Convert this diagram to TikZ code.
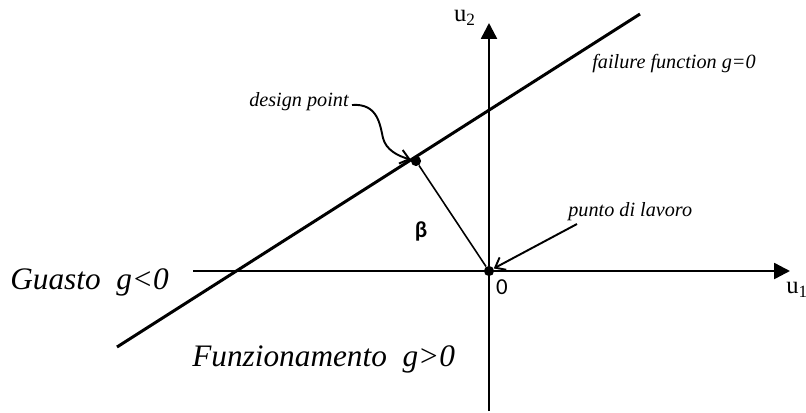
\documentclass[tikz,border=0pt]{standalone}
\usepackage{fontspec}
\setmainfont{Liberation Serif}
\newfontfamily\calibfont{Carlito}
\usetikzlibrary{arrows.meta}

\begin{document}
\begin{tikzpicture}[x=0.02cm,y=-0.02cm,
    axis/.style={line width=1.4pt,-{Triangle[length=9pt,width=9pt]}},
    pointer/.style={line width=1.1pt,-{Straight Barb[length=5pt,width=8pt]}},
    dot/.style={circle,fill,inner sep=0pt,minimum size=5.8pt},
    bigtxt/.style={font=\fontsize{17.8}{21}\selectfont\itshape,inner sep=0pt},
    smalltxt/.style={font=\fontsize{11.5}{14}\selectfont\itshape,inner sep=0pt}]
  \useasboundingbox (0,0) rectangle (806,413);
  % axes
  \coordinate (xstart) at (193,271);
  \coordinate (xend) at (790,271);
  \coordinate (ystart) at (489,411);
  \coordinate (yend) at (489,23);
  \draw[axis] (xstart)--(xend);
  \draw[axis] (ystart)--(yend);
  \node[font=\fontsize{14}{16}\selectfont,anchor=west,inner sep=0pt] (uone) at (786,290) {u\textsubscript{1}};
  \node[font=\fontsize{14}{16}\selectfont] (utwo) at (465,18) {u\textsubscript{2}};
  \node[font=\calibfont\fontsize{13}{15}\selectfont] (zero) at (502,287) {0};
  % limit state line
  \coordinate (gstart) at (117,347);
  \coordinate (gend) at (640,14);
  \draw[line width=1.7pt] (gstart)--(gend);
  \node[dot] (dp) at (416,161) {};
  \node[dot] (orig) at (489,271) {};
  \draw[line width=0.9pt] (dp)--(orig);
  \node[font=\calibfont\bfseries\fontsize{13}{15}\selectfont] (beta) at (421,231) {β};
  % labels
  \node[smalltxt,anchor=base east] (dptext) at (349,106) {design point};
  \coordinate (dpfrom) at (352,105);
  \draw[pointer] (dpfrom) .. controls (378,103) and (380,125) .. (383,138)
    .. controls (386,150) and (398,156) .. (dp);
  \node[smalltxt,anchor=base west] (pltext) at (568,216) {punto di lavoro};
  \coordinate (plfrom) at (577,224);
  \draw[pointer] (plfrom)--(orig);
  \node[smalltxt,anchor=base west] (gtext) at (592,68) {failure function g=0};
  \node[bigtxt,anchor=base west] (fail) at (10,289) {Guasto\ \ g<0};
  \node[bigtxt,anchor=base west] (safe) at (192,366) {Funzionamento\ \ g>0};
\end{tikzpicture}
\end{document}
